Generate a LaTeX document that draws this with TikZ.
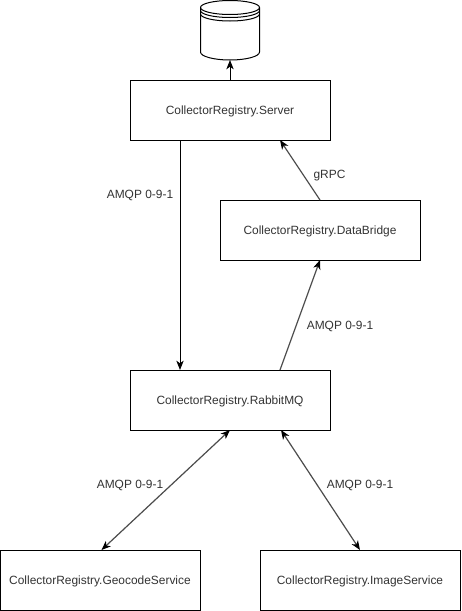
\documentclass[tikz,border=0pt]{standalone}
\usepackage{fontspec}
\setmainfont{Liberation Sans}
\usetikzlibrary{arrows.meta,shapes.geometric}
\definecolor{ink}{gray}{0.2}
\tikzset{
 box/.style={draw=black,line width=0.75pt,fill=white,minimum width=150pt,minimum height=45pt,inner sep=0pt,text=ink,text height=6.5pt,text depth=0pt,font=\fontsize{8.95pt}{11pt}\selectfont},
 lab/.style={text=ink,text height=6.5pt,text depth=0pt,font=\fontsize{8.95pt}{11pt}\selectfont,inner sep=0pt},
 conn/.style={line width=0.75pt,draw=black,-{Stealth[length=7pt,width=5.5pt,inset=2pt]}},
 conng/.style={line width=0.9pt,draw=black!70,-{Stealth[length=7pt,width=5.5pt,inset=2pt,color=black]}},
 conn2/.style={line width=0.9pt,draw=black!70,{Stealth[length=7pt,width=5.5pt,inset=2pt,color=black]}-{Stealth[length=7pt,width=5.5pt,inset=2pt,color=black]}},
 db/.style={line width=0.75pt,draw=black,fill=white}
}
\begin{document}
\begin{tikzpicture}[x=0.75pt,y=-0.75pt]
\useasboundingbox (0,0) rectangle (461,611);
\fill[white] (0,0) rectangle (461,611);
\node[box] (server) at (230,110) {CollectorRegistry.Server};
\node[box] (bridge) at (320,230) {CollectorRegistry.DataBridge};
\node[box] (rabbit) at (230,400) {CollectorRegistry.RabbitMQ};
\node[box] (geo) at (100,580) {CollectorRegistry.GeocodeService};
\node[box] (img) at (360,580) {CollectorRegistry.ImageService};
\coordinate (dbb) at (230,60);
\draw[db] (200.5,7.5) -- (200.5,52) arc[x radius=29.5,y radius=8,start angle=180,end angle=0] -- (259.5,7.5) arc[x radius=29.5,y radius=7,start angle=0,end angle=-180] -- cycle;
\draw[db,fill=none] (200.5,7.5) arc[x radius=29.5,y radius=7,start angle=180,end angle=0];
\draw[db,fill=none] (200.5,10.5) arc[x radius=29.5,y radius=7,start angle=180,end angle=0];
\draw[db,fill=none] (200.5,14) arc[x radius=29.5,y radius=7,start angle=180,end angle=0];
\coordinate (sdown) at (180,140);
\coordinate (rdown) at (180,370);
\coordinate (rup) at (280,370);
\coordinate (bdown) at (320,260);
\coordinate (bup) at (320,200);
\coordinate (sup2) at (280,140);
\coordinate (rl) at (230,430);
\coordinate (gt) at (101.5,550);
\coordinate (rr) at (281,430);
\coordinate (it) at (360,550);
\draw[conn] (server.north) -- (dbb);
\draw[conn] (sdown) -- (rdown);
\draw[conng] (rup) -- (bdown);
\draw[conng] (bup) -- (sup2);
\draw[conn2] (rl) -- (gt);
\draw[conn2] (rr) -- (it);
\node[lab] (l1) at (140,194.5) {AMQP 0-9-1};
\node[lab] (l2) at (329.5,174.5) {gRPC};
\node[lab] (l3) at (340,325.5) {AMQP 0-9-1};
\node[lab] (l4) at (130,484.5) {AMQP 0-9-1};
\node[lab] (l5) at (360,484.5) {AMQP 0-9-1};
\end{tikzpicture}
\end{document}
